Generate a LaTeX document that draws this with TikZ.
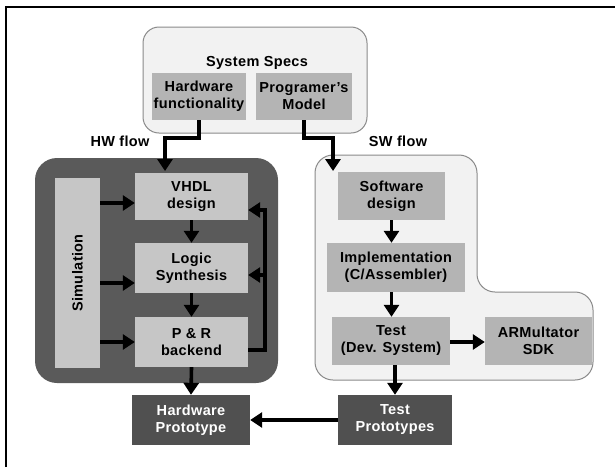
\documentclass[tikz,border=0pt]{standalone}
\usepackage{fontspec}
\setmainfont[LetterSpace=2.5]{Liberation Sans}
\usetikzlibrary{arrows.meta}
\definecolor{darkpanel}{HTML}{5A5A5A}
\definecolor{lightpanel}{HTML}{F2F2F2}
\definecolor{panelline}{HTML}{8A8A8A}
\definecolor{graybox}{HTML}{B4B4B4}
\definecolor{simbox}{HTML}{C6C6C6}
\definecolor{protobox}{HTML}{505050}
\tikzset{
  every node/.style={font=\fontsize{14.5}{17}\selectfont\bfseries, align=center, inner sep=0pt},
  stagebox/.style={fill=graybox, draw=none},
  simstage/.style={fill=simbox, draw=none},
  protostage/.style={fill=protobox, draw=none, text=white},
  flow/.style={line width=3.6pt, -{Triangle[length=12pt,width=15pt]}},
  feed/.style={line width=3.6pt},
  flowlabel/.style={font=\fontsize{14.5}{17}\selectfont\bfseries}
}
\begin{document}
\begin{tikzpicture}[x=1pt,y=-1pt]
\useasboundingbox (0,0) rectangle (615,467);
\fill[white] (0,0) rectangle (615,467);
% frame
\draw[line width=2pt] (6,467) -- (6,7) -- (615,7);

% system specs panel
\draw[fill=lightpanel, draw=panelline, line width=1pt, rounded corners=16pt] (143,27) rectangle (367,133);
\node (specs) at (257,63) {System Specs};
\node[stagebox, minimum width=94pt, minimum height=47pt] (hwf) at (199,96.5) {Hardware\\functionality};
\node[stagebox, minimum width=96pt, minimum height=47pt] (pm) at (304,96.5) {Programer's\\Model};

% hardware panel
\fill[darkpanel, rounded corners=22pt] (35,158) rectangle (278,383);
\node[simstage, minimum width=45pt, minimum height=190pt] (sim) at (77.5,273) {};
\node[rotate=90] at (sim.center) {Simulation};
\node[simstage, minimum width=113pt, minimum height=47pt] (vhdl) at (191.5,196.5) {VHDL\\design};
\node[simstage, minimum width=113pt, minimum height=50pt] (logic) at (191.5,268) {Logic\\Synthesis};
\node[simstage, minimum width=113pt, minimum height=50pt] (pr) at (191.5,342) {P \& R\\backend};

% software panel
\draw[fill=lightpanel, draw=panelline, line width=1pt, rounded corners=18pt]
  (315,155) -- (477,155) -- (477,292) -- (593,292) -- (593,380) -- (315,380) -- cycle;
\node[stagebox, minimum width=107pt, minimum height=48pt] (swd) at (391.5,196) {Software\\design};
\node[stagebox, minimum width=138pt, minimum height=49pt] (impl) at (396,267.5) {Implementation\\(C/Assembler)};
\node[stagebox, minimum width=118pt, minimum height=48pt] (test) at (391,341) {Test\\(Dev. System)};
\node[stagebox, minimum width=107pt, minimum height=48pt] (arm) at (538.5,341) {ARMultator\\SDK};

% prototypes
\node[protostage, minimum width=118pt, minimum height=50pt] (hwp) at (191,420) {Hardware\\Prototype};
\node[protostage, minimum width=114pt, minimum height=50pt] (tp) at (395,420) {Test\\Prototypes};

% flow labels
\node[flowlabel] (hwlbl) at (120,141) {HW flow};
\node[flowlabel] (swlbl) at (398,141) {SW flow};

% entry arrows into the two flows
\coordinate (hwin) at (165,171);
\coordinate (swin) at (333,171);
\draw[flow] (hwf.south) -- (199,138) -| (hwin);
\draw[flow] (pm.south) -- (304,138) -| (swin);

% hardware chain
\draw[flow] (vhdl.south) -- (logic.north);
\draw[flow] (logic.south) -- (pr.north);
\draw[flow] (pr.south) -- (hwp.north);
\draw[flow] (sim.east |- 0,203) -- (vhdl.west |- 0,203);
\draw[flow] (sim.east |- 0,283) -- (logic.west |- 0,283);
\draw[flow] (sim.east |- 0,342) -- (pr.west |- 0,342);
\draw[feed] (pr.east |- 0,350) -| (265,208.2) coordinate (fbtop);
\draw[flow] (266.8,210) -- (vhdl.east |- 0,210);
\draw[flow] (265,275) -- (logic.east |- 0,275);

% software chain
\draw[flow] (swd.south) -- (impl.north -| swd.south);
\draw[flow] (impl.south -| swd.south) -- (test.north -| swd.south);
\draw[flow] (test.east |- 0,342) -- (arm.west |- 0,342);
\draw[flow] (test.south -| tp.north) -- (tp.north);
\draw[flow] (tp.west) -- (hwp.east);
\end{tikzpicture}
\end{document}
